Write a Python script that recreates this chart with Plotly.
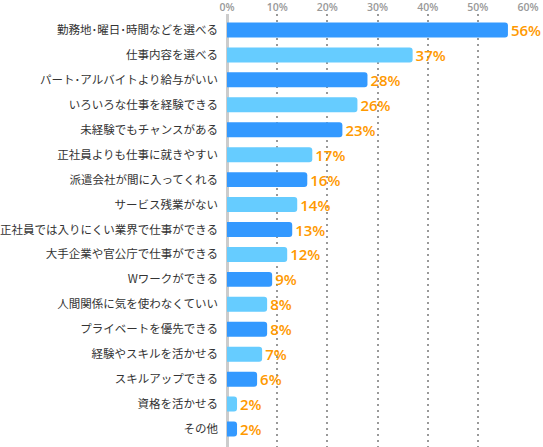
import plotly.graph_objects as go

categories = [
    "勤務地･曜日･時間などを選べる",
    "仕事内容を選べる",
    "パート･アルバイトより給与がいい",
    "いろいろな仕事を経験できる",
    "未経験でもチャンスがある",
    "正社員よりも仕事に就きやすい",
    "派遣会社が間に入ってくれる",
    "サービス残業がない",
    "正社員では入りにくい業界で仕事ができる",
    "大手企業や官公庁で仕事ができる",
    "Wワークができる",
    "人間関係に気を使わなくていい",
    "プライベートを優先できる",
    "経験やスキルを活かせる",
    "スキルアップできる",
    "資格を活かせる",
    "その他",
]
values = [56, 37, 28, 26, 23, 17, 16, 14, 13, 12, 9, 8, 8, 7, 6, 2, 2]
tick_vals = [0, 10, 20, 30, 40, 50, 60]
tick_text = ["0%", "10%", "20%", "30%", "40%", "50%", "60%"]

colors = ["#3399ff" if i % 2 == 0 else "#66ccff" for i in range(len(values))]
pos = list(range(len(values)))

fig = go.Figure()
fig.add_trace(go.Bar(
    x=values, y=pos, orientation="h",
    marker=dict(color=colors, cornerradius=3, line=dict(width=0)),
    width=0.6,
    text=[f"{v}%" for v in values],
    textposition="outside", constraintext="none",
    textfont=dict(color="#ff9900", size=15, family="Open Sans", weight=600),
    cliponaxis=False,
    hoverinfo="skip",
))

fig.update_layout(
    width=543, height=447,
    margin=dict(l=227, r=15, t=14, b=0),
    plot_bgcolor="white", paper_bgcolor="white",
    showlegend=False,
    font=dict(family="Noto Sans CJK JP", color="#333333", size=11),
)
fig.update_xaxes(
    range=[0, 60], side="top", automargin=False,
    tickvals=tick_vals, ticktext=tick_text,
    tickfont=dict(color="#999999", size=10.5, family="Open Sans", weight=600),
    ticklabelstandoff=0,
    showgrid=True, gridcolor="#999999", griddash="2px,4px", gridwidth=1.5,
    zeroline=True, zerolinecolor="#cccccc", zerolinewidth=2.5,
    ticks="", fixedrange=True,
)
fig.update_yaxes(
    range=[16.72, -0.64], automargin=False,
    tickvals=pos, ticktext=categories,
    ticks="", ticklabelstandoff=8, fixedrange=True,
    showgrid=False, zeroline=False,
    tickfont=dict(color="#333333", size=11.5),
)

# page body has a default 8px margin; drop it so the chart sits at 0,0
fig.write_html("out.html", config={"displayModeBar": False},
               post_script="document.body.style.margin='0';")
